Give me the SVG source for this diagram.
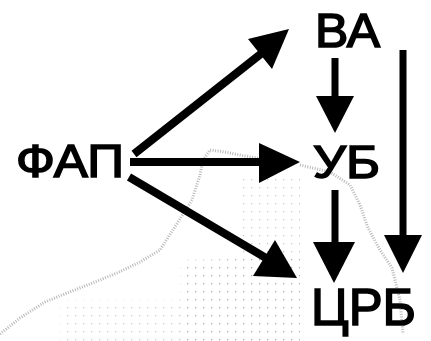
<svg xmlns="http://www.w3.org/2000/svg" width="431" height="341" viewBox="0 0 431 341">
<style>
.lbl{font-family:"Liberation Sans",Arial,sans-serif;fill:#000;stroke:#000;stroke-width:1.6}
.ln{stroke:#000;stroke-width:7;stroke-linecap:butt;fill:none}
.dg{stroke-width:8}
.hd{fill:#000;stroke:none}
.bg{fill:none;stroke:#9a9a9a;stroke-width:3;stroke-dasharray:1 1.5;opacity:0.7}
</style>
<defs>
<pattern id="dots" width="8" height="8" patternUnits="userSpaceOnUse">
<rect x="3" y="3" width="1.3" height="1.3" fill="#777"/>
</pattern>
</defs>
<rect width="431" height="341" fill="#fff"/>
<g id="background">
<path class="bg" d="M0,334 L20,318 L45,302 L67,293 L95,282 L117,273 L140,262 L160,250 L178,222 L192,200 L200,175 L203,160 L210,150 L225,152 L245,156 L270,160"/>
<path class="bg" d="M300,165 L330,172 L350,185 L360,205 L368,228 L380,250 L392,268 L400,300 L403,334"/>
<path fill="url(#dots)" opacity="0.6" d="M180,260 L300,258 L300,341 L180,341 Z"/>
<path fill="url(#dots)" opacity="0.4" d="M240,175 L300,175 L300,255 L240,255 Z"/>
<path fill="url(#dots)" opacity="0.4" d="M60,300 L180,300 L180,341 L60,341 Z"/>
</g>
<g id="connectors">
<line class="ln dg" x1="134" y1="154" x2="262" y2="53"/>
<polygon class="hd" points="289,29 248,39 272,69"/>
<line class="ln dg" x1="130" y1="162" x2="262" y2="162"/>
<polygon class="hd" points="300,162 259,143 259,183"/>
<line class="ln dg" x1="129" y1="177" x2="266" y2="258"/>
<polygon class="hd" points="297,278 275,240 253,276"/>
<line class="ln" x1="335" y1="58" x2="335" y2="97"/>
<polygon class="hd" points="335,133 316,96 354,96"/>
<line class="ln" x1="335" y1="190" x2="335" y2="244"/>
<polygon class="hd" points="334,283 313,242 355,242"/>
<line class="ln" x1="403" y1="50" x2="403" y2="237"/>
<polygon class="hd" points="403,273 384,235 422,235"/>
</g>
<g id="node-fap"><text class="lbl" x="16" y="177" font-size="47" textLength="108" lengthAdjust="spacingAndGlyphs">ФАП</text></g>
<g id="node-va"><text class="lbl" x="315" y="47" font-size="48" textLength="65" lengthAdjust="spacingAndGlyphs">ВА</text></g>
<g id="node-ub"><text class="lbl" x="313" y="178" font-size="47" textLength="67" lengthAdjust="spacingAndGlyphs">УБ</text></g>
<g id="node-crb"><text class="lbl" x="311" y="325" font-size="52" textLength="105" lengthAdjust="spacingAndGlyphs" stroke-width="2.6">ЦРБ</text></g>
</svg>
